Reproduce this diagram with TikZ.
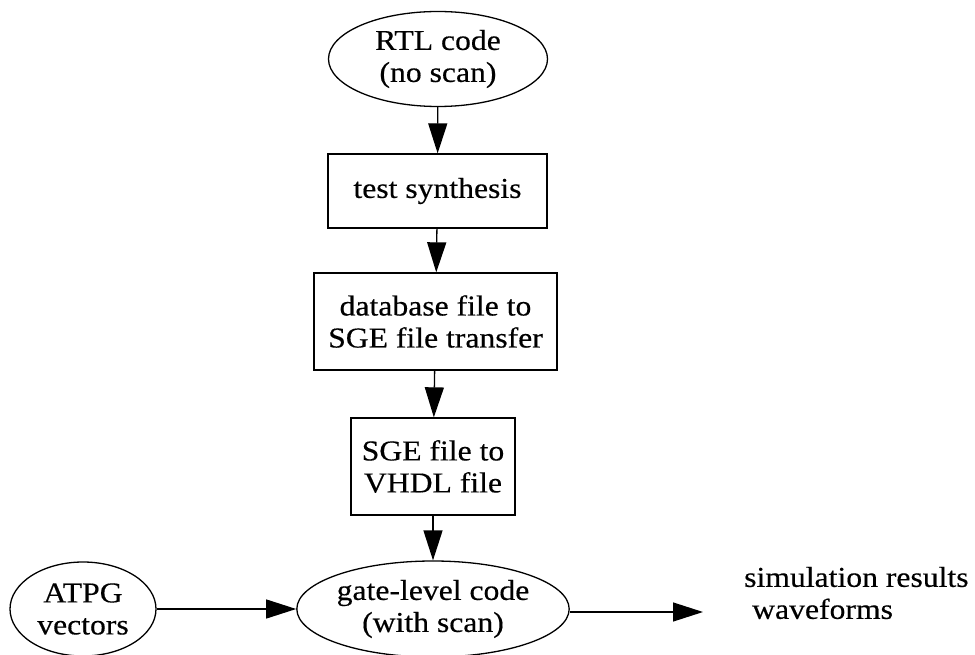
\documentclass[tikz,border=0pt]{standalone}
\usepackage{fontspec}
\setmainfont{Liberation Serif}[FakeStretch=1.1,FakeBold=0.4]
\usetikzlibrary{shapes.geometric,arrows.meta}
\tikzset{
  lbl/.style={font=\fontsize{28.8}{32}\selectfont, align=center, inner sep=0pt},
  oval/.style={lbl, draw, ellipse, line width=1.3pt},
  stepbox/.style={lbl, draw, rectangle, line width=1.3pt},
  flow/.style={line width=1.3pt, -{Triangle[length=30pt,width=19pt]}}
}
\begin{document}
\begin{tikzpicture}[x=1pt,y=-1pt]
  \useasboundingbox (0,0) rectangle (975,655);

  % main chain
  \node[oval, minimum width=219pt, minimum height=95pt] (rtl) at (438,59) {RTL code\\(no scan)};
  \node[stepbox, minimum width=219pt, minimum height=74pt] (synth) at (437.5,191) {test synthesis};
  \node[stepbox, minimum width=243pt, minimum height=97pt] (xfer) at (435.5,321.5) {database file to\\SGE file transfer};
  \node[stepbox, minimum width=164pt, minimum height=97pt] (vhdl) at (433,466.5) {SGE file to\\VHDL file};
  \node[oval, minimum width=218pt, minimum height=96pt] (gate) at (433,609) {gate-level code\\(with scan)};

  % side inputs and outputs
  \node[oval, minimum width=146pt, minimum height=94pt] (atpg) at (83,609) {ATPG\\vectors};
  \node[lbl, align=left, anchor=west] (sim) at (744,593) {simulation results\\\hspace*{8pt}waveforms};
  \coordinate (simin) at (703,612);

  \draw[flow] (rtl) -- (synth);
  \draw[flow] (synth) -- (xfer);
  \draw[flow] (xfer) -- (vhdl);
  \draw[flow] (vhdl) -- (gate);
  \draw[flow] (atpg.east) -- (gate.west);
  \draw[flow] (gate.east |- simin) -- (simin);
\end{tikzpicture}
\end{document}
